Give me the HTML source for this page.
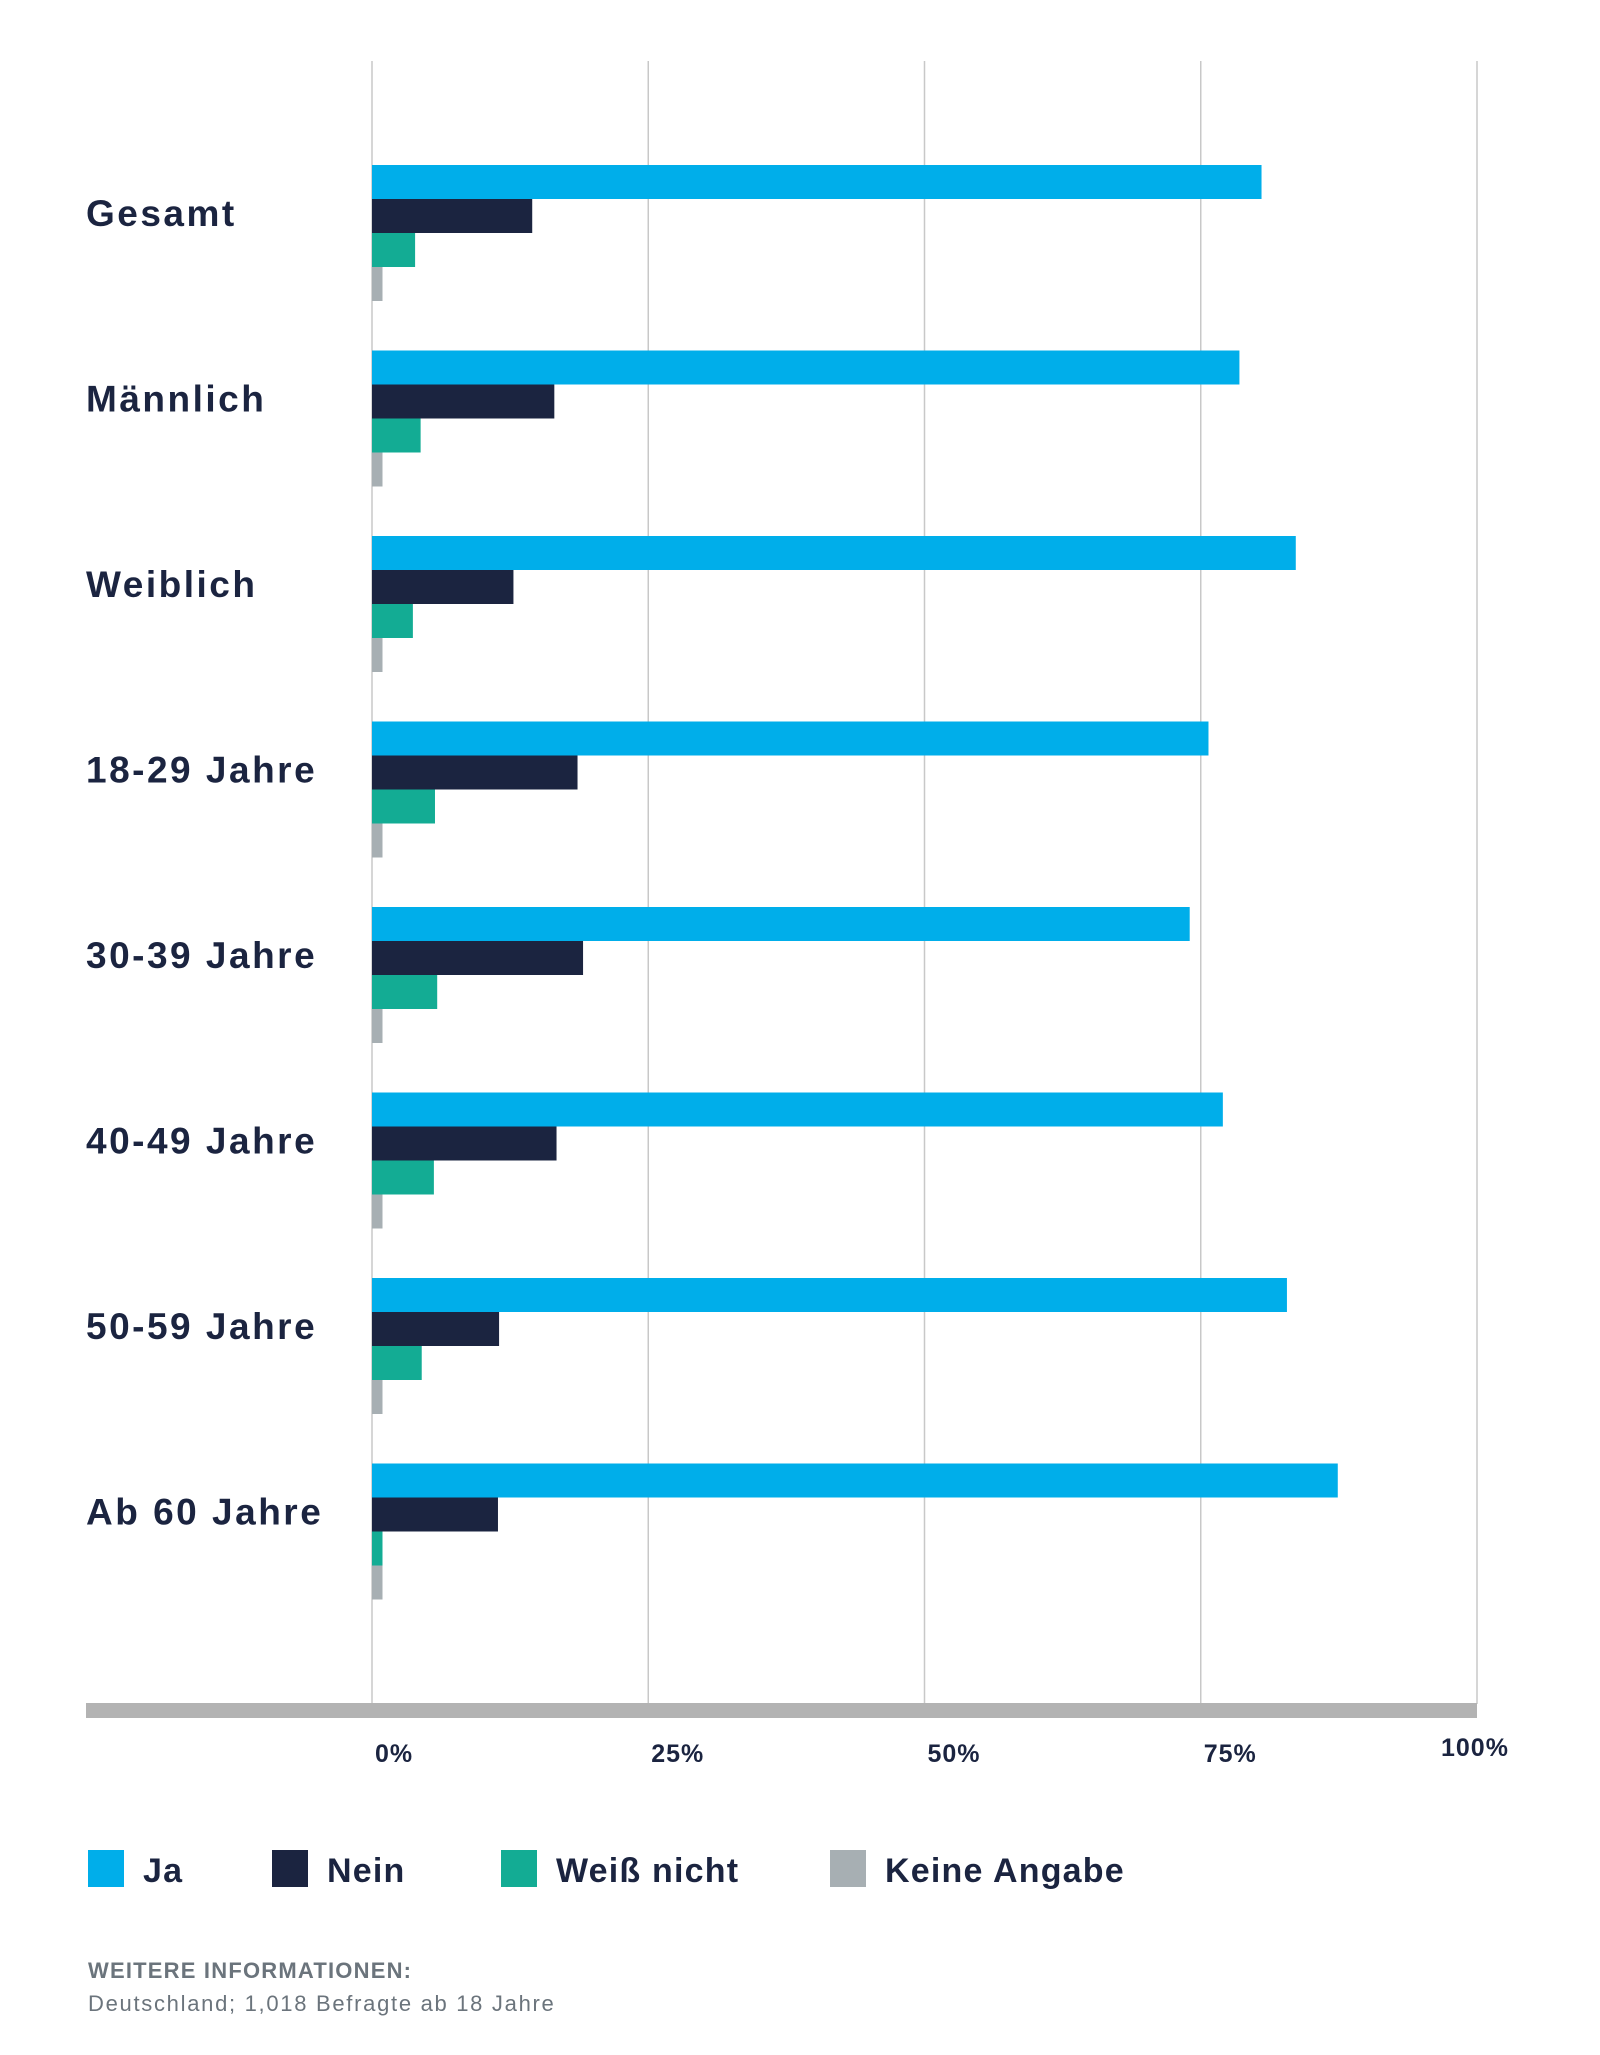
<!DOCTYPE html>
<html><head><meta charset="utf-8"><style>
html,body{margin:0;padding:0;background:#fff;}
body{width:1600px;height:2050px;position:relative;overflow:hidden;font-family:"Liberation Sans",sans-serif;}
</style></head><body>
<svg id="chart" width="1600" height="2050" xmlns="http://www.w3.org/2000/svg"></svg>
<script>
const categories = ["Gesamt","Männlich","Weiblich","18-29 Jahre","30-39 Jahre","40-49 Jahre","50-59 Jahre","Ab 60 Jahre"];
const seriesNames = ["Ja","Nein","Weiß nicht","Keine Angabe"];
const ja = [80.5,78.5,83.6,75.7,74.0,77.0,82.8,87.4];
const nein = [14.5,16.5,12.8,18.6,19.1,16.7,11.5,11.4];
const weissNicht = [3.9,4.4,3.7,5.7,5.9,5.6,4.5,0.95];
const keineAngabe = [0.95,0.95,0.95,0.95,0.95,0.95,0.95,0.95];
const ticks = [0,25,50,75,100];
const tickLabels = ["0%","25%","50%","75%","100%"];

const NS = "http://www.w3.org/2000/svg";
const svg = document.getElementById("chart");
const colors = ["#00aeea","#1b2440","#13ac94","#a7afb3"];
const series = [ja, nein, weissNicht, keineAngabe];
const x0 = 372, x1 = 1477;
const xScale = v => x0 + (x1 - x0) * v / 100;
const groupTop = 165, groupStep = 185.5, barH = 34;
const yScale = (i, s) => groupTop + i * groupStep + s * barH;
function mk(tag, attrs){const e=document.createElementNS(NS,tag);for(const k in attrs)e.setAttribute(k,attrs[k]);svg.appendChild(e);return e;}

ticks.forEach((t,i)=>{
  const g = mk("line",{x1:xScale(t),x2:xScale(t),y1:61,y2:1704,stroke:"#c8c8c8","stroke-width":1.5});
  
  
  const tx = mk("text",{x:xScale(t)+(i===4?-36:3),y:i===4?1756:1762,"font-size":25,"font-weight":"bold",fill:"#1b2440","letter-spacing":"1"});
  tx.textContent = tickLabels[i];
  
  
});
const axis = mk("rect",{x:86,y:1703,width:1391,height:15,fill:"#b3b3b3"});



categories.forEach((c,i)=>{
  const lab = mk("text",{x:86,y:yScale(i,0)+61,"font-size":37,"font-weight":"bold",fill:"#1b2440","letter-spacing":"2.5"});
  lab.textContent = c;
  
  
  series.forEach((arr,s)=>{
    const r = mk("rect",{x:x0,y:yScale(i,s),width:xScale(arr[i])-x0,height:barH,fill:colors[s]});
    
    
  });
});

const legX = [88,272,501,830];
seriesNames.forEach((n,s)=>{
  const r = mk("rect",{x:legX[s],y:1850,width:36,height:37,fill:colors[s]});
  
  
  const t = mk("text",{x:legX[s]+55,y:1882,"font-size":34,"font-weight":"bold",fill:"#1b2440","letter-spacing":"1.2"});
  t.textContent = n;
  
  
});
const f1 = mk("text",{x:88,y:1978,"font-size":22,"font-weight":"bold",fill:"#6b747c","letter-spacing":"1.2"});
f1.textContent = "WEITERE INFORMATIONEN:";


const f2 = mk("text",{x:88,y:2011,"font-size":22,fill:"#6b747c","letter-spacing":"1.7"});
f2.textContent = "Deutschland; 1,018 Befragte ab 18 Jahre";


</script>
</body></html>
